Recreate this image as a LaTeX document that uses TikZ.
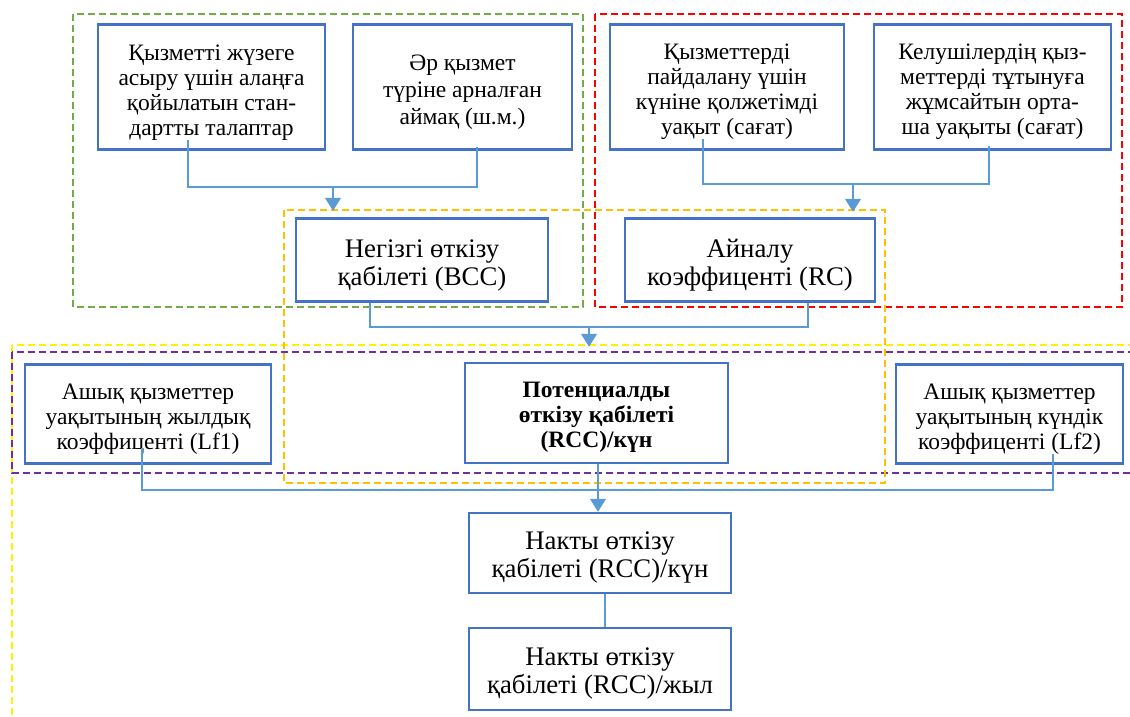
\documentclass[tikz,border=0pt]{standalone}
\usepackage{fontspec}
\setmainfont{Liberation Serif}
\usetikzlibrary{arrows.meta}
\definecolor{boxblue}{HTML}{4472C4}
\definecolor{linkblue}{HTML}{5B9BD5}
\definecolor{grgreen}{HTML}{70AD47}
\definecolor{grorange}{HTML}{FFC000}
\definecolor{grpurple}{HTML}{7030A0}
\newcommand{\boxtop}[1][25pt]{\rule{0pt}{#1}}

\begin{document}
\begin{tikzpicture}[%
x=1pt, y=-1pt,
>={Triangle[width=16pt,length=13pt]},
box/.style={draw=boxblue, line width=2.5pt, fill=white, align=center, inner sep=0pt,
  font=\fontsize{23.5}{25}\selectfont},
bigbox/.style={box, font=\fontsize{26.8}{28}\selectfont},
link/.style={draw=linkblue, line width=1.3pt},
arr/.style={link, ->, fill=linkblue},
group/.style={line width=2.4pt, dash pattern=on 7pt off 4pt},
]

\pgfmathsetmacro{\rowA}{87}
\pgfmathsetmacro{\rowB}{260}
\pgfmathsetmacro{\rowC}{414}
\pgfmathsetmacro{\jA}{187}
\pgfmathsetmacro{\jB}{184}
\pgfmathsetmacro{\jC}{327}
\pgfmathsetmacro{\jD}{490}

\useasboundingbox (0,0) rectangle (1130,716);
\clip (0,0) rectangle (1130,716);

% groups
\draw[group, draw=grgreen] (73,14) rectangle (583,307);
\draw[group, draw=red] (595,14) rectangle (1122,307);
\draw[group, draw=yellow] (12,345) rectangle (1140,730);
\draw[group, draw=grpurple] (12,352) rectangle (1140,473);
\draw[group, draw=grorange] (284,210) rectangle (885,483);

\node[box, minimum width=227, minimum height=125] (b1) at (211.5,\rowA)
  {\boxtop[27pt]Қызметті жүзеге\\асыру үшін алаңға\\қойылатын стан-\\дартты талаптар};
\node[box, minimum width=219, minimum height=125, font=\fontsize{23.5}{27}\selectfont] (b2) at (462.5,\rowA)
  {\boxtop Әр қызмет\\түріне арналған\\аймақ (ш.м.)};
\node[box, minimum width=234, minimum height=125] (b3) at (727,\rowA)
  {\boxtop Қызметтерді\\пайдалану үшін\\күніне қолжетімді\\уақыт (сағат)};
\node[box, minimum width=237, minimum height=125] (b4) at (992.5,\rowA)
  {\boxtop Келушілердің қыз-\\меттерді тұтынуға\\жұмсайтын орта-\\ша уақыты (сағат)};

\node[bigbox, minimum width=252, minimum height=83] (bcc) at (422,\rowB)
  {\boxtop[28.5pt]Негізгі өткізу\\қабілеті (BCC)};
\node[bigbox, minimum width=250, minimum height=83] (rc) at (750,\rowB)
  {\boxtop[28.5pt]Айналу\\коэффиценті (RC)};

\node[box, minimum width=246, minimum height=99] (lf1) at (148,\rowC)
  {\boxtop Ашық қызметтер\\уақытының жылдық\\коэффиценті (Lf1)};
\node[box, minimum width=263, minimum height=100, font=\fontsize{23.5}{25}\selectfont\bfseries] (pot) at (596.5,413)
  {\boxtop[23pt]Потенциалды\\өткізу қабілеті\\(RCC)/күн};
\node[box, minimum width=227, minimum height=99] (lf2) at (1009.5,\rowC)
  {\boxtop Ашық қызметтер\\уақытының күндік\\коэффиценті (Lf2)};

\node[bigbox, minimum width=262, minimum height=80] (day) at (600,553)
  {\boxtop[27pt]Накты өткізу\\қабілеті (RCC)/күн};
\node[bigbox, minimum width=262, minimum height=82] (year) at (600,669)
  {\boxtop[27pt]Накты өткізу\\қабілеті (RCC)/жыл};

\coordinate (m1) at (333,\jA);
\draw[link] ([xshift=-23.5pt,yshift=11pt]b1.south) |- (m1) -| ([xshift=14.5pt,yshift=3.5pt]b2.south);
\draw[arr] (m1) -- ([yshift=6.5pt]bcc.north -| m1);

\coordinate (m2) at (853,\jB);
\draw[link] ([xshift=-24pt,yshift=12pt]b3.south) |- (m2) -| ([xshift=-3.5pt,yshift=5pt]b4.south);
\draw[arr] (m2) -- ([yshift=5.5pt]rc.north -| m2);

\coordinate (m3) at (589,\jC);
\draw[link] ([xshift=-52pt]bcc.south) |- (m3) -| ([xshift=58pt]rc.south);
\draw[arr] (m3) -- ([yshift=15pt]pot.north -| m3);

\draw[link] ([xshift=-6pt,yshift=17pt]lf1.south) |- (pot.south |- 0,\jD) -| ([xshift=43.5pt,yshift=11pt]lf2.south);
\draw[arr] ([xshift=1.5pt]pot.south) -- ([xshift=1.5pt]pot.south |- day.north);
\draw[link] ([xshift=5pt]day.south) -- ([xshift=5pt]year.north);

\end{tikzpicture}
\end{document}
